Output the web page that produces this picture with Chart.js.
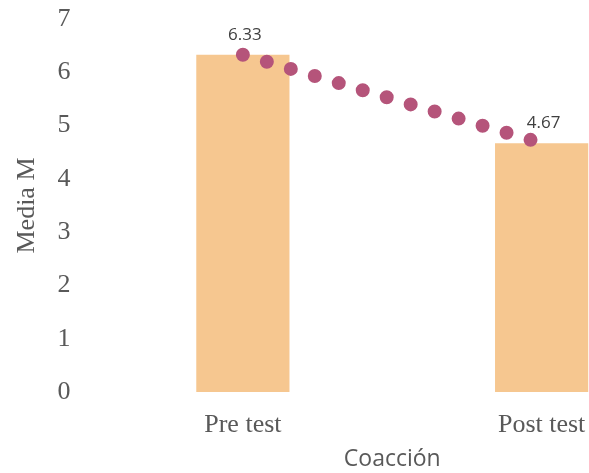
<!DOCTYPE html>
<html>
<head>
<meta charset="utf-8">
<script src="https://cdn.jsdelivr.net/npm/chart.js@4"></script>
<style>
  body { margin: 0; background: #fff; overflow: hidden; }
  #wrap { width: 700px; height: 473px; }
</style>
</head>
<body>
<div id="wrap"><canvas id="chart"></canvas></div>
<script>
// données
const categories = ["Pre test", "Post test"];
const means = [6.33, 4.67];
const yTicks = [0, 1, 2, 3, 4, 5, 6, 7];

const grey = "#595959";

// étiquettes au-dessus de la ligne pointillée
const valueLabels = {
  id: "valueLabels",
  afterDatasetsDraw(chart) {
    const c = chart.ctx;
    const meta = chart.getDatasetMeta(1);
    c.save();
    c.font = "17px 'Open Sans'";
    c.fillStyle = "#404040";
    c.textAlign = "center";
    c.textBaseline = "middle";
    meta.data.forEach((pt, i) => {
      c.fillText(means[i].toFixed(2), pt.x + 2, pt.y - 20);
    });
    c.restore();
  }
};

new Chart(document.getElementById("chart"), {
  type: "bar",
  data: {
    labels: categories,
    datasets: [
      {
        label: "Media",
        data: means,
        backgroundColor: "#F6C790",
        categoryPercentage: 1,
        barPercentage: 0.312,
        order: 2
      },
      {
        type: "line",
        label: "Tendencia",
        data: means,
        borderColor: "#B5547A",
        borderWidth: 14,
        borderDash: [0, 25],
        borderCapStyle: "round",
        pointRadius: 0,
        tension: 0,
        order: 1
      }
    ]
  },
  options: {
    responsive: true,
    maintainAspectRatio: false,
    animation: false,
    layout: { padding: { top: 19, right: 9, bottom: 0, left: 0 } },
    plugins: {
      legend: { display: false },
      tooltip: { enabled: false }
    },
    scales: {
      x: {
        grid: { display: false, drawTicks: false },
        border: { display: false },
        ticks: {
          color: grey,
          padding: 18,
          font: { family: "'Liberation Serif'", size: 26 }
        },
        title: {
          display: true,
          text: "Coacción",
          color: grey,
          padding: { top: 2, bottom: 0 },
          font: { family: "'Open Sans'", size: 23 }
        },
        afterFit(scale) { scale.height = 81; }
      },
      y: {
        min: 0,
        max: 7,
        afterBuildTicks(scale) { scale.ticks = yTicks.map(v => ({ value: v })); },
        grid: { display: false, drawTicks: false },
        border: { display: false },
        ticks: {
          color: grey,
          padding: 23,
          font: { family: "'Liberation Serif'", size: 26 }
        },
        title: {
          display: true,
          text: "Media M",
          color: grey,
          padding: { top: 12, bottom: 0 },
          font: { family: "'Liberation Serif'", size: 26 }
        },
        afterFit(scale) {
          scale.width = 93.5;
          scale.paddingTop = 0;
          scale.paddingBottom = 0;
        }
      }
    }
  },
  plugins: [valueLabels]
});
</script>
</body>
</html>
